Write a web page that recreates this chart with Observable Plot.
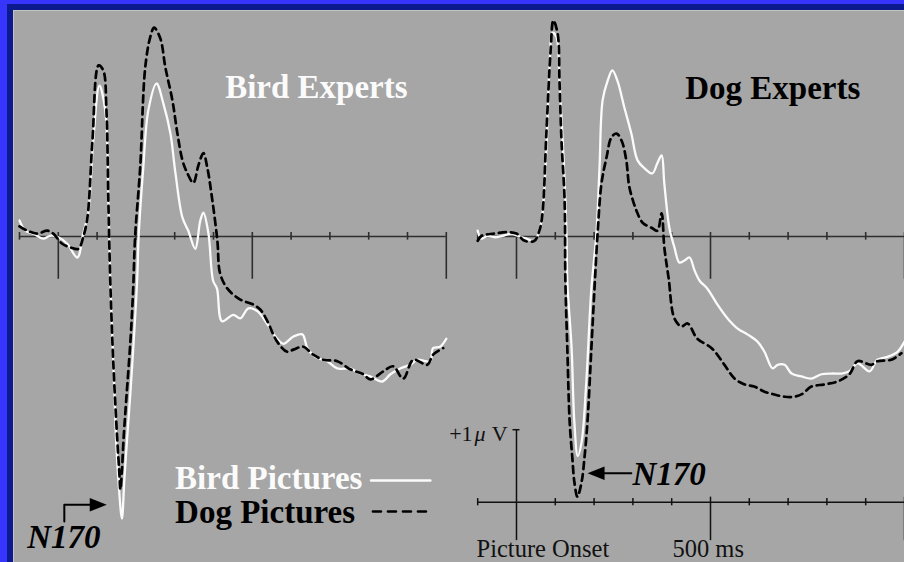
<!DOCTYPE html>
<html>
<head>
<meta charset="utf-8">
<script src="https://cdn.jsdelivr.net/npm/d3@7"></script>
<script src="https://cdn.jsdelivr.net/npm/@observablehq/plot@0.6"></script>
<style>
  html, body { margin: 0; padding: 0; }
  body { width: 904px; height: 562px; overflow: hidden; background: #3535fb; position: relative; }
  #frame {
    position: absolute; left: 7px; top: 4px; right: 0; bottom: 0;
    border-left: 6px solid #0b1a8e; border-top: 6px solid #0b1a8e;
    background: #a6a6a6; box-shadow: inset 1px 1px 0 #c4c4c4;
  }
  #chart { position: absolute; left: 0; top: 1px; }
</style>
</head>
<body>
<div id="frame"><div id="chart"></div></div>
<script>
// Panels (expert groups) and picture categories
const panels = ["Bird Experts", "Dog Experts"];
const pictureTypes = ["Bird Pictures", "Dog Pictures"];

// Grand-average ERP waveforms: [time after picture onset (ms), amplitude (µV)]
const birdExpertsBirdPictures = [
  [-100,0.22],[-85,0.08],[-64,0.04],[-39,-0.03],[-21,0.01],[0,-0.01],[23,-0.10],[49,-0.29],
  [64,0.04],[77,0.32],[90,1.32],[106,2.08],[121,1.74],[129,0.50],[134,-0.62],[142,-1.77],
  [149,-2.81],[155,-3.37],[164,-3.89],[170,-3.37],[177,-2.81],[186,-2.14],[203,-0.62],[207,0.0],
  [219,0.95],[232,1.74],[253,2.11],[271,1.83],[289,1.42],[302,0.87],[320,0.26],[335,0.08],
  [353,-0.17],[366,0.22],[374,0.33],[387,0.04],[399,-0.61],[409,-0.72],[422,-1.17],[451,-1.08],
  [469,-1.13],[490,-0.99],[513,-1.03],[539,-1.21],[564,-1.41],[580,-1.48],[606,-1.38],[629,-1.35],
  [642,-1.54],[662,-1.66],[693,-1.72],[719,-1.82],[752,-1.82],[778,-1.89],[804,-1.93],[835,-2.00],
  [856,-1.90],[881,-1.82],[907,-1.77],[925,-1.70],[946,-1.72],[959,-1.72],[966,-1.54],[984,-1.52],
  [1000,-1.41]
];
const birdExpertsDogPictures = [
  [-100,0.14],[-80,0.08],[-54,0.04],[-28,0.08],[-13,0.04],[10,-0.10],[31,-0.15],[52,-0.17],
  [64,-0.01],[75,0.26],[88,1.32],[104,2.36],[116,2.29],[124,1.74],[129,0.50],[134,-0.62],
  [142,-1.77],[152,-2.81],[157,-3.23],[160,-3.49],[164,-3.23],[168,-2.81],[175,-2.26],[186,-1.43],
  [193,-0.72],[198,0.0],[211,0.95],[224,2.33],[237,2.75],[247,2.88],[263,2.73],[276,2.33],
  [294,1.88],[307,1.42],[320,1.05],[332,0.88],[348,0.74],[361,0.98],[374,1.15],[384,0.95],
  [397,0.50],[410,-0.06],[417,-0.51],[436,-0.72],[469,-0.87],[503,-0.94],[521,-1.01],[539,-1.17],
  [564,-1.45],[590,-1.59],[606,-1.56],[631,-1.52],[657,-1.63],[683,-1.70],[719,-1.72],[752,-1.83],
  [786,-1.90],[804,-1.97],[838,-1.86],[863,-1.79],[889,-1.96],[915,-1.70],[951,-1.77],[966,-1.63],
  [992,-1.54]
];
const dogExpertsBirdPictures = [
  [-100,0.08],[-91,-0.03],[-75,0.01],[-57,-0.01],[-36,0.01],[-13,0.04],[3,0.01],[26,-0.03],
  [46,-0.06],[59,0.08],[67,0.32],[77,1.19],[85,2.33],[93,2.81],[103,2.75],[111,2.11],
  [119,1.32],[126,0.50],[129,-0.01],[131,-0.62],[142,-1.54],[149,-2.55],[158,-3.03],[168,-2.83],
  [180,-2.00],[193,-0.72],[206,0.04],[214,0.95],[222,1.88],[235,2.15],[247,2.29],[260,2.15],
  [278,1.78],[296,1.42],[312,1.05],[330,0.94],[350,0.87],[363,1.01],[374,1.12],[381,0.73],
  [394,0.12],[407,-0.15],[420,-0.36],[433,-0.33],[446,-0.29],[459,-0.47],[472,-0.61],[492,-0.72],
  [518,-0.94],[544,-1.13],[570,-1.27],[595,-1.35],[621,-1.45],[639,-1.59],[660,-1.82],[673,-1.77],
  [691,-1.77],[709,-1.89],[734,-1.93],[760,-1.96],[786,-1.90],[812,-1.89],[838,-1.89],[858,-1.86],
  [879,-1.75],[910,-1.86],[930,-1.70],[956,-1.66],[982,-1.59],[1000,-1.45]
];
const dogExpertsDogPictures = [
  [-100,-0.06],[-90,0.01],[-57,0.04],[-23,0.06],[0,0.04],[21,-0.06],[46,-0.06],[59,0.08],
  [67,0.32],[77,1.42],[88,2.57],[95,2.98],[106,2.80],[111,2.11],[116,1.32],[124,0.50],
  [126,-0.61],[131,-1.54],[137,-2.55],[144,-3.06],[149,-3.38],[157,-3.59],[168,-3.38],[175,-3.06],
  [183,-2.55],[193,-1.54],[201,-0.72],[209,0.04],[219,0.73],[232,1.09],[245,1.37],[258,1.42],
  [271,1.32],[283,1.05],[291,0.68],[309,0.36],[325,0.19],[348,0.12],[363,0.08],[374,0.32],
  [381,-0.15],[392,-0.57],[407,-1.13],[425,-1.24],[441,-1.20],[466,-1.41],[503,-1.54],[536,-1.77],
  [562,-1.96],[588,-2.04],[613,-2.07],[639,-2.14],[665,-2.18],[691,-2.21],[716,-2.21],[737,-2.17],
  [760,-2.07],[794,-2.04],[827,-2.00],[858,-1.90],[879,-1.72],[915,-1.77],[930,-1.72],[966,-1.70],
  [992,-1.61]
];

// Time axis ticks (ms)
const tickMs = [-100, 0, 100, 200, 300, 400, 500, 600, 700, 800, 900, 1000];
const majorTickMs = [0, 500, 1000];

// Calibration bar: its zero line sits this many µV below the waveform baselines
const calibrationLevel = -3.665;
const calibrationStep = 1; // +1 µV

const waves = [
  {panel: panels[0], pictures: pictureTypes[0], values: birdExpertsBirdPictures},
  {panel: panels[0], pictures: pictureTypes[1], values: birdExpertsDogPictures},
  {panel: panels[1], pictures: pictureTypes[0], values: dogExpertsBirdPictures},
  {panel: panels[1], pictures: pictureTypes[1], values: dogExpertsDogPictures}
].flatMap(s => s.values.map(([ms, uv]) => ({panel: s.panel, pictures: s.pictures, ms, uv})));

const baselines = panels.map(panel => ({panel, uv: 0, from: tickMs[0], to: tickMs[tickMs.length - 1]}));
const axisTicks = panels.flatMap(panel => tickMs.map(ms => ({panel, ms, major: majorTickMs.includes(ms)})));
const calPanel = panels[1];
const calTicks = tickMs.map(ms => ({panel: calPanel, ms, major: majorTickMs.includes(ms), zero: ms === 0}));

// Filled arrowhead pointing along +x
const arrowHead = {
  draw(context, size) {
    const r = Math.sqrt(size / Math.PI);
    context.moveTo(r, 0);
    context.lineTo(-r, -0.8 * r);
    context.lineTo(-r, 0.8 * r);
    context.closePath();
  }
};

const serif = "Liberation Serif, Times New Roman, serif";
const axisColor = "#2e2e2e";
const white = "#fbfbfb";
const dash = "7,5";
const bigText = 33;

const isBird = d => d.pictures === pictureTypes[0];

const chart = Plot.plot({
  width: 891,
  height: 551,
  marginLeft: 6, marginRight: 0, marginTop: 0, marginBottom: 0,
  style: {background: "transparent", overflow: "visible"},
  fx: {domain: panels, paddingInner: 0.0685, paddingOuter: 0, round: false, axis: null, label: null},
  x: {domain: [-100, 1000], axis: null},
  y: {domain: [0, 1], range: [225, 152.5], axis: null},
  marks: [
    // time axes
    Plot.ruleY(baselines, {fx: "panel", y: "uv", x1: "from", x2: "to", stroke: axisColor, strokeWidth: 1.7}),
    Plot.ruleX(axisTicks, {fx: "panel", x: "ms", y1: 0.055, y2: d => d.major ? -0.59 : -0.05, stroke: axisColor, strokeWidth: 1.6}),

    // waveforms
    Plot.line(waves.filter(isBird), {fx: "panel", x: "ms", y: "uv", z: "panel", stroke: white, strokeWidth: 2.3, curve: "catmull-rom"}),
    Plot.line(waves.filter(d => !isBird(d)), {fx: "panel", x: "ms", y: "uv", z: "panel", stroke: "#000", strokeWidth: 2.7, strokeDasharray: dash, curve: "catmull-rom"}),

    // panel titles
    Plot.text([{panel: panels[0]}], {fx: "panel", x: () => 430, y: () => 1.91, text: "panel", textAnchor: "start", lineAnchor: "bottom", fill: white, fontFamily: serif, fontWeight: "bold", fontSize: bigText}),
    Plot.text([{panel: panels[1]}], {fx: "panel", x: () => 435, y: () => 1.90, text: "panel", textAnchor: "start", lineAnchor: "bottom", fill: "#000", fontFamily: serif, fontWeight: "bold", fontSize: bigText}),

    // legend
    Plot.text([{panel: panels[0], label: pictureTypes[0]}], {fx: "panel", x: () => 301, y: () => -3.476, text: "label", textAnchor: "start", lineAnchor: "bottom", fill: white, fontFamily: serif, fontWeight: "bold", fontSize: bigText}),
    Plot.text([{panel: panels[0], label: pictureTypes[1]}], {fx: "panel", x: () => 301, y: () => -3.945, text: "label", textAnchor: "start", lineAnchor: "bottom", fill: "#000", fontFamily: serif, fontWeight: "bold", fontSize: bigText}),
    Plot.line([{panel: panels[0], ms: 806, uv: -3.366}, {panel: panels[0], ms: 959, uv: -3.366}], {fx: "panel", x: "ms", y: "uv", stroke: white, strokeWidth: 2.4}),
    Plot.line([{panel: panels[0], ms: 811, uv: -3.793}, {panel: panels[0], ms: 962, uv: -3.793}], {fx: "panel", x: "ms", y: "uv", stroke: "#000", strokeWidth: 2.6, strokeDasharray: "8,7"}),

    // N170 callouts
    Plot.line([{panel: panels[0], ms: 15.5, uv: -3.93}, {panel: panels[0], ms: 15.5, uv: -3.70}, {panel: panels[0], ms: 84, uv: -3.70}], {fx: "panel", x: "ms", y: "uv", stroke: "#000", strokeWidth: 2}),
    Plot.dot([{panel: panels[0], ms: 103, uv: -3.70}], {fx: "panel", x: "ms", y: "uv", symbol: arrowHead, r: 8.5, fill: "#000", stroke: "none"}),
    Plot.text([{panel: panels[0], label: "N170"}], {fx: "panel", x: () => -80, y: () => -4.303, text: "label", textAnchor: "start", lineAnchor: "bottom", fill: "#000", fontFamily: serif, fontWeight: "bold", fontStyle: "italic", fontSize: bigText}),
    Plot.line([{panel: panels[1], ms: 296, uv: -3.265}, {panel: panels[1], ms: 225, uv: -3.265}], {fx: "panel", x: "ms", y: "uv", stroke: "#000", strokeWidth: 2}),
    Plot.dot([{panel: panels[1], ms: 205, uv: -3.265}], {fx: "panel", x: "ms", y: "uv", symbol: arrowHead, r: 8.5, rotate: 180, fill: "#000", stroke: "none"}),
    Plot.text([{panel: panels[1], label: "N170"}], {fx: "panel", x: () => 299, y: () => -3.421, text: "label", textAnchor: "start", lineAnchor: "bottom", fill: "#000", fontFamily: serif, fontWeight: "bold", fontStyle: "italic", fontSize: bigText}),

    // calibration bar: time scale and +1 µV
    Plot.ruleY([{panel: calPanel}], {fx: "panel", y: () => calibrationLevel, x1: () => tickMs[0], x2: () => tickMs[tickMs.length - 1], stroke: "#111", strokeWidth: 1.5}),
    Plot.ruleX(calTicks, {fx: "panel", x: "ms",
      y1: d => d.zero ? calibrationLevel + calibrationStep : calibrationLevel + (d.major ? 0.07 : 0.05),
      y2: d => d.major ? calibrationLevel - 0.53 : calibrationLevel - 0.05,
      stroke: "#111", strokeWidth: 1.5}),
    Plot.ruleY([{panel: calPanel}], {fx: "panel", y: () => calibrationLevel + calibrationStep, x1: () => -9, x2: () => 9, stroke: "#111", strokeWidth: 1.5}),
    Plot.text([{panel: calPanel, label: "V"}], {fx: "panel", x: () => -23, y: () => -2.814, text: "label", textAnchor: "end", lineAnchor: "bottom", fill: "#111", fontFamily: serif, fontSize: 22}),
    Plot.text([{panel: calPanel, label: "μ"}], {fx: "panel", x: () => -23, y: () => -2.814, dx: -33, text: "label", textAnchor: "start", lineAnchor: "bottom", fill: "#111", fontFamily: serif, fontStyle: "italic", fontSize: 22}),
    Plot.text([{panel: calPanel, label: "+1"}], {fx: "panel", x: () => -23, y: () => -2.814, dx: -35, text: "label", textAnchor: "end", lineAnchor: "bottom", fill: "#111", fontFamily: serif, fontSize: 22}),
    Plot.text([{panel: calPanel, label: "Picture Onset"}], {fx: "panel", x: () => -103, y: () => -4.414, text: "label", textAnchor: "start", lineAnchor: "bottom", fill: "#111", fontFamily: serif, fontSize: 24.5}),
    Plot.text([{panel: calPanel, label: "500 ms"}], {fx: "panel", x: () => 402, y: () => -4.414, text: "label", textAnchor: "start", lineAnchor: "bottom", fill: "#111", fontFamily: serif, fontSize: 24.5})
  ]
});

document.getElementById("chart").appendChild(chart);
</script>
</body>
</html>
